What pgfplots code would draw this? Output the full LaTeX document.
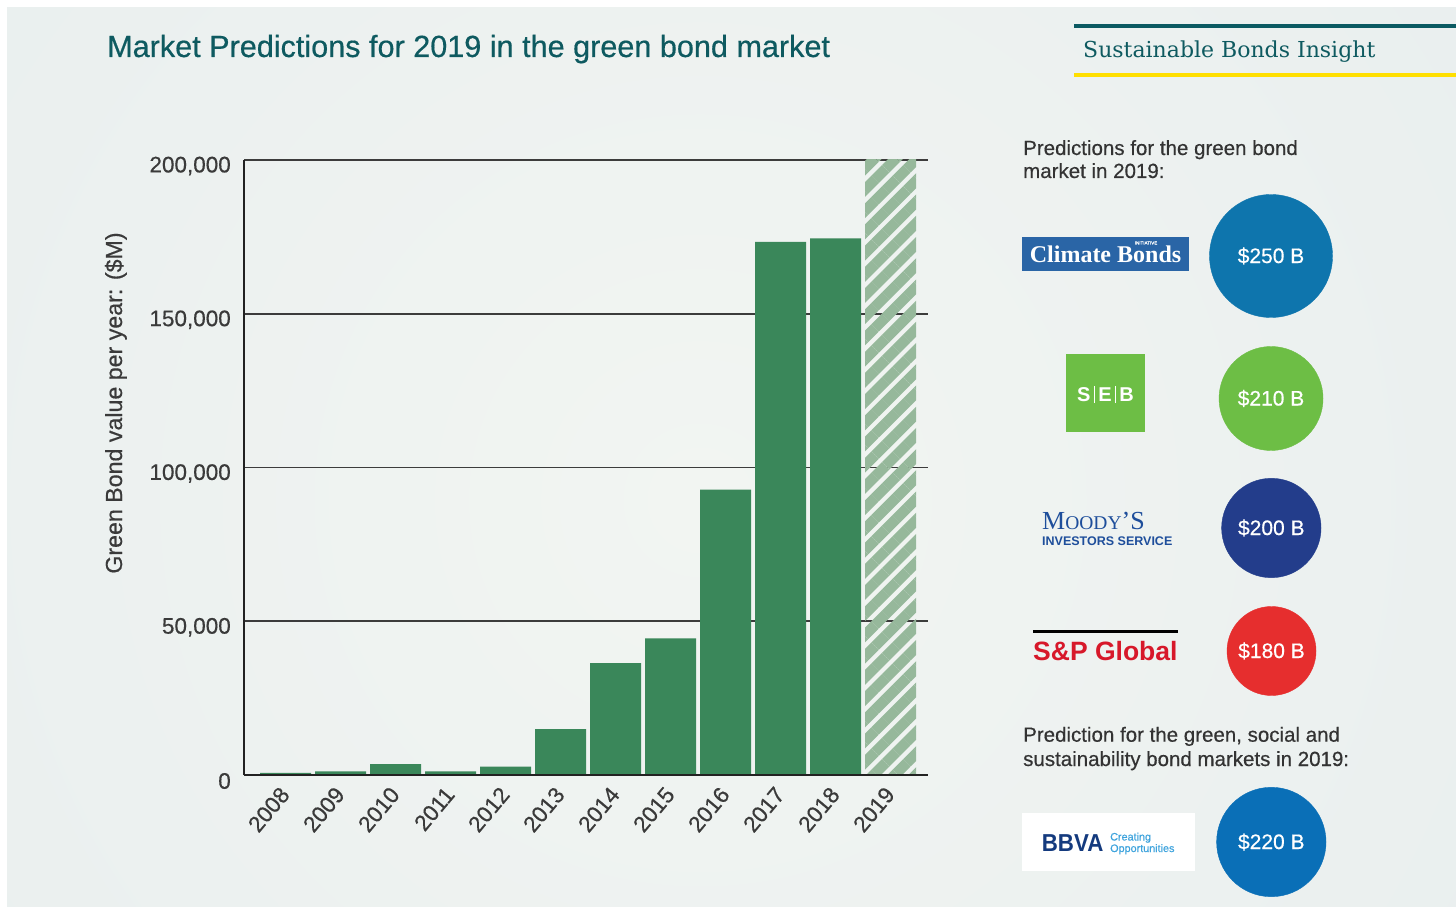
\documentclass[border=0pt]{standalone}
\usepackage{pgfplots}
\pgfplotsset{compat=1.18}
\usepackage{fontspec}
\setmainfont{Liberation Sans}[UprightFeatures={FakeBold=0.45}]
\newfontfamily\serifA{Liberation Serif}
\newfontfamily\serifB{DejaVu Serif}
\usetikzlibrary{patterns.meta}
\definecolor{bgin}{HTML}{F2F5F2}
\definecolor{bgout}{HTML}{E2EAEC}
\definecolor{barcol}{HTML}{3A875A}
\definecolor{hatchcol}{HTML}{96B89B}
\definecolor{titlecol}{HTML}{0E5A60}
\definecolor{tealline}{HTML}{0B5A62}
\definecolor{yellowline}{HTML}{FFDF00}
\definecolor{labcol}{HTML}{3A3A3A}
\definecolor{axiscol}{HTML}{222222}
\definecolor{gridcol}{HTML}{3C3C3C}
\definecolor{txtcol}{HTML}{333333}
\definecolor{cA}{HTML}{0E75AD}
\definecolor{cB}{HTML}{6DBE45}
\definecolor{cC}{HTML}{233D8B}
\definecolor{cD}{HTML}{E62E2E}
\definecolor{cE}{HTML}{0A6FB7}
\definecolor{cbbox}{HTML}{2A65A6}
\definecolor{moody}{HTML}{1E4E9B}
\definecolor{spred}{HTML}{D7182A}
\definecolor{bbvanavy}{HTML}{143A7E}
\definecolor{bbvalight}{HTML}{3DA3DD}
\begin{document}
\begin{tikzpicture}[x=1pt,y=1pt]
% background
\fill[white] (0,0) rectangle (1456,906);
\begin{scope}
\clip (7,0) rectangle (1456,898);
\shade[inner color=bgin, outer color=bgout] (700,406) circle (1700);
\end{scope}
% header
\node[anchor=base west, inner sep=0pt, text=titlecol, font=\fontsize{30.6}{36}\selectfont] at (107,849) {Market Predictions for 2019 in the green bond market};
\fill[tealline] (1074,878) rectangle (1456,882);
\fill[yellowline] (1074,829) rectangle (1456,833);
\node[anchor=base west, inner sep=0pt, text=titlecol, font=\serifB\fontsize{22}{26}\selectfont] at (1083,848) {Sustainable Bonds Insight};
% y label
\node[anchor=base, inner sep=0pt, rotate=90, text=labcol, font=\fontsize{23.2}{27}\selectfont] at (122,503) {Green Bond value per year: (\$M)};
% bar chart
\begin{axis}[
  at={(244pt,131pt)}, anchor=south west, scale only axis,
  width=684pt, height=615pt,
  xmin=-0.755, xmax=11.68, ymin=0, ymax=200000,
  axis x line*=bottom, axis y line*=left,
  axis line style={-, line width=2pt, draw=axiscol},
  ybar, bar width=51pt, bar shift=0pt,
  xtick={0,1,2,3,4,5,6,7,8,9,10,11},
  xticklabels={2008,2009,2010,2011,2012,2013,2014,2015,2016,2017,2018,2019},
  major tick length=0pt,
  ytick={0,50000,100000,150000,200000},
  yticklabels={0,{50,000},{100,000},{150,000},{200,000}},
  scaled y ticks=false,
  ymajorgrids, grid style={line width=1.6pt, draw=gridcol},
  tick label style={font=\fontsize{22.5}{27}\selectfont, text=labcol},
  yticklabel style={inner sep=0pt, xshift=-13pt, yshift=-6pt},
  xticklabel style={inner sep=0pt, xshift=-6.8pt, yshift=-10pt, rotate=50, anchor=north east},
  clip=false,
]
\addplot[fill=barcol, draw=none, bar shift=0pt] coordinates {(0,700) (1,1200) (2,3500) (3,1200) (4,2700) (5,14900) (6,36400) (7,44400) (8,92800) (9,173400) (10,174500)};
\addplot[draw=none, bar shift=0pt, pattern={Lines[angle=45,distance=15pt,line width=10.5pt]}, pattern color=hatchcol] coordinates {(11,200000)};
\draw[axiscol, line width=2pt] (axis cs:-0.755,0) -- (axis cs:11.68,0);
\end{axis}
% right panel texts
\node[anchor=base west, inner sep=0pt, text=txtcol, font=\fontsize{20.5}{24}\selectfont] at (1023,751) {Predictions for the green bond};
\node[anchor=base west, inner sep=0pt, text=txtcol, font=\fontsize{20.5}{24}\selectfont] at (1023,728) {market in 2019:};
\node[anchor=base west, inner sep=0pt, text=txtcol, font=\fontsize{20.5}{24}\selectfont] at (1023,164.3) {Prediction for the green, social and};
\node[anchor=base west, inner sep=0pt, text=txtcol, font=\fontsize{20.5}{24}\selectfont] at (1023,140) {sustainability bond markets in 2019:};
% logos
\fill[cbbox] (1022,634.7) rectangle (1188.7,669.3);
\node[anchor=base, inner sep=0pt, text=white, font=\serifA\bfseries\fontsize{24}{24}\selectfont] at (1105.5,643.7) {Climate Bonds};
\node[anchor=base, inner sep=0pt, text=white, font=\fontsize{4.5}{5}\selectfont] at (1146,661.5) {INITIATIVE};
\fill[cB] (1066,473.7) rectangle (1145,551.7);
\node[anchor=base, inner sep=0pt, text=white, font=\bfseries\fontsize{20}{20}\selectfont] at (1105.5,504.3) {S\hspace{3.5pt}\rule[-1.5pt]{0.8pt}{17pt}\hspace{3.5pt}E\hspace{3.5pt}\rule[-1.5pt]{0.8pt}{17pt}\hspace{3.5pt}B};
\node[anchor=base west, inner sep=0pt, text=moody, font=\serifA] at (1042,376.7) {{\fontsize{26}{26}\selectfont M}{\fontsize{19.5}{26}\selectfont OODY}{\fontsize{26}{26}\selectfont ’S}};
\node[anchor=base west, inner sep=0pt, text=moody, font=\bfseries\fontsize{12.5}{14}\selectfont] at (1042,360.3) {INVESTORS SERVICE};
\fill[black] (1033,272.7) rectangle (1178,276);
\node[anchor=base west, inner sep=0pt, text=spred, font=\bfseries\fontsize{26.5}{30}\selectfont] at (1033,246) {S\&P Global};
\fill[white] (1022,35) rectangle (1195.3,92.7);
\node[anchor=base west, inner sep=0pt, xscale=0.91, text=bbvanavy, font=\bfseries\fontsize{24.5}{26}\selectfont] at (1041.7,54.3) {BBVA};
\node[anchor=base west, inner sep=0pt, text=bbvalight, font=\fontsize{10.8}{12}\selectfont] at (1110,65.5) {Creating};
\node[anchor=base west, inner sep=0pt, text=bbvalight, font=\fontsize{10.8}{12}\selectfont] at (1110,54) {Opportunities};
% prediction bubbles
\begin{axis}[
  at={(0pt,0pt)}, anchor=south west, scale only axis,
  width=1456pt, height=906pt,
  xmin=0, xmax=1456, ymin=0, ymax=906,
  hide axis, clip=false,
  nodes near coords style={anchor=center, text=white, font=\fontsize{21}{24}\selectfont},
]
\addplot[only marks, mark=*, mark size=61.5pt, mark options={fill=cA, draw=cA}, nodes near coords={\$250 B}] coordinates {(1271,650)};
\addplot[only marks, mark=*, mark size=52pt, mark options={fill=cB, draw=cB}, nodes near coords={\$210 B}] coordinates {(1271,507.5)};
\addplot[only marks, mark=*, mark size=49.7pt, mark options={fill=cC, draw=cC}, nodes near coords={\$200 B}] coordinates {(1271.3,378)};
\addplot[only marks, mark=*, mark size=44.5pt, mark options={fill=cD, draw=cD}, nodes near coords={\$180 B}] coordinates {(1271.5,255)};
\addplot[only marks, mark=*, mark size=54.7pt, mark options={fill=cE, draw=cE}, nodes near coords={\$220 B}] coordinates {(1271.3,64)};
\end{axis}
\pgfresetboundingbox
\useasboundingbox (0,0) rectangle (1456,906);
\end{tikzpicture}
\end{document}
